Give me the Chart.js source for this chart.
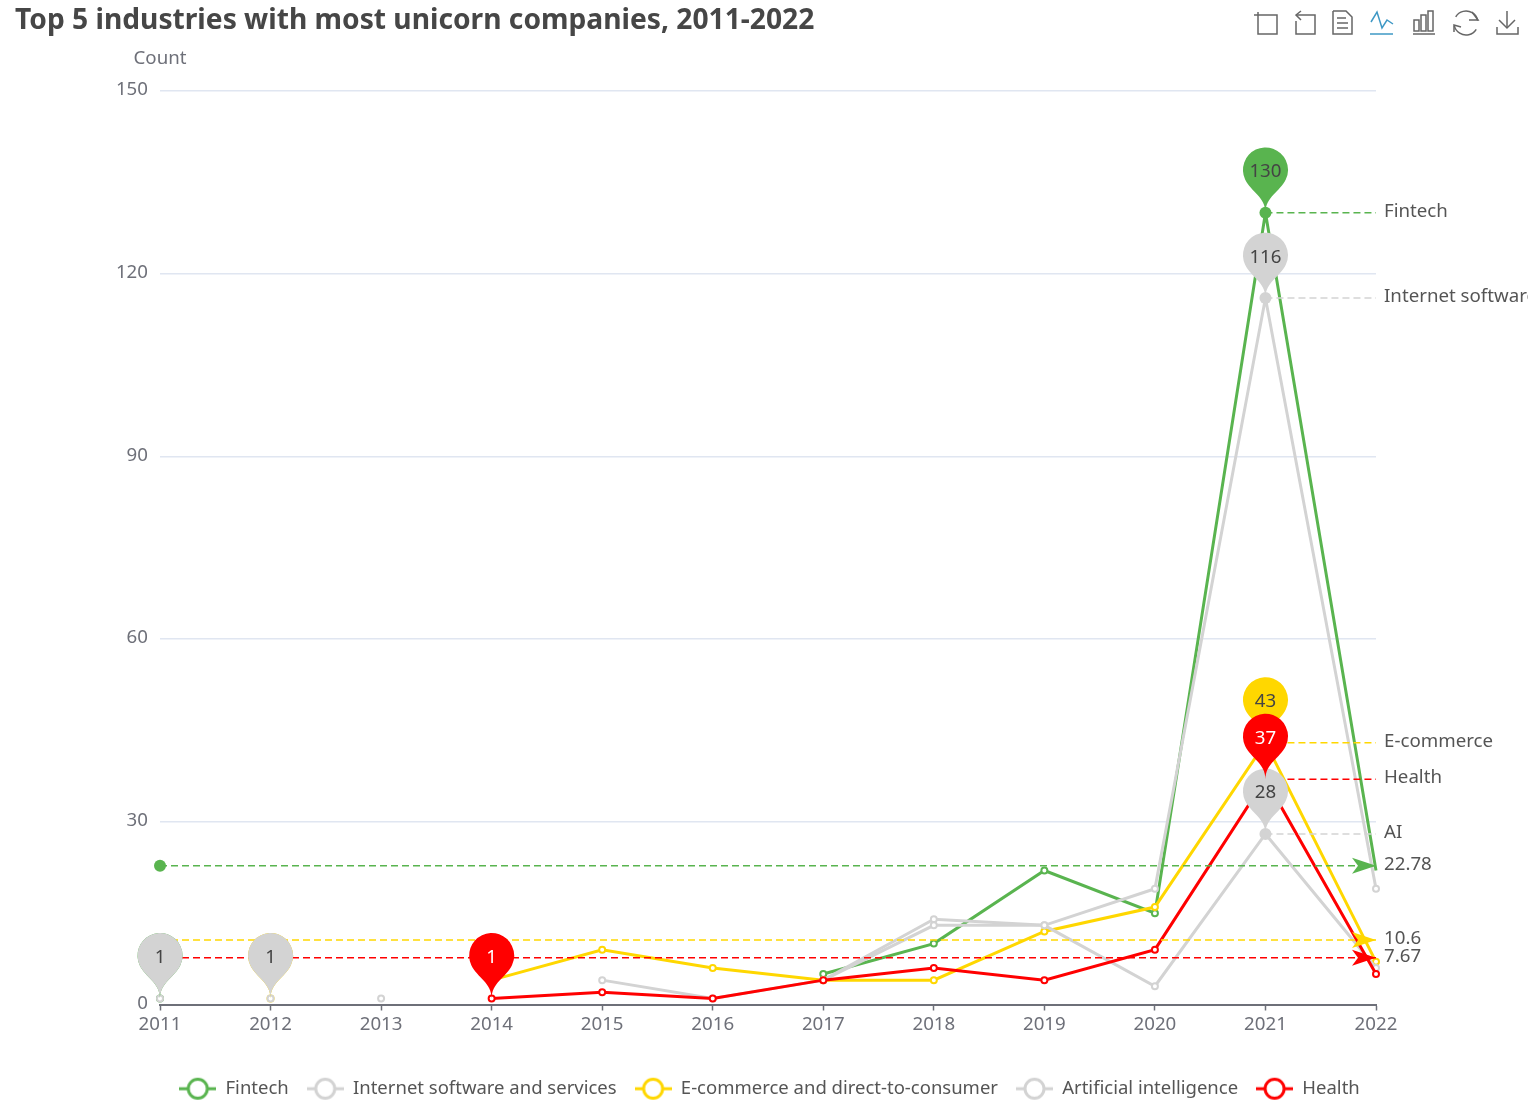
<!DOCTYPE html>
<html>
<head>
<meta charset="utf-8">
<title>Top 5 industries with most unicorn companies</title>
<script src="https://cdn.jsdelivr.net/npm/chart.js@4"></script>
<style>
  html, body { margin: 0; background: #fff; }
  canvas { display: block; }
</style>
</head>
<body>
<canvas id="unicornChart" width="1528" height="1111"></canvas>
<script>
const years = ['2011','2012','2013','2014','2015','2016','2017','2018','2019','2020','2021','2022'];
const yTicks = [0, 30, 60, 90, 120, 150];

const seriesNames = ['Fintech', 'Internet software and services', 'E-commerce and direct-to-consumer', 'Artificial intelligence', 'Health'];
const seriesColors = ['#59b44f', '#d3d3d3', '#ffd700', '#d3d3d3', '#ff0000'];

const fintech  = [1, null, null, null, null, null, 5, 10, 22, 15, 130, 22];
const internet = [1, null, 1, null, 4, 1, 4, 14, 13, 19, 116, 19];
const ecommerce = [null, 1, null, 4, 9, 6, 4, 4, 12, 16, 43, 7];
const ai = [null, 1, null, null, null, null, 4, 13, 13, 3, 28, 6];
const health = [null, null, null, 1, 2, 1, 4, 6, 4, 9, 37, 5];
const seriesValues = [fintech, internet, ecommerce, ai, health];

// labels on the dashed line leaving each series peak
const peakLabels = ['Fintech', 'Internet software', 'E-commerce', 'AI', 'Health'];
// dashed average lines: which series, and the value printed at the end
const averageSeries = [0, 2, 4];
const averageValues = [22.78, 10.6, 7.67];
// low pins: which series, at which year
const lowPinSeries = [0, 1, 2, 3, 4];
const lowPinYears = ['2011', '2011', '2012', '2012', '2014'];

const FONT = "'Noto Sans', sans-serif";
const FONT_SIZE = 18.7;
const TEXT = '#555';
const AXIS = '#6E7079';

// line + ring used as legend key
function legendIcon(color) {
  const c = document.createElement('canvas');
  c.width = 37; c.height = 24;
  const g = c.getContext('2d');
  g.strokeStyle = color; g.lineWidth = 3;
  g.beginPath(); g.moveTo(0, 12); g.lineTo(37, 12); g.stroke();
  g.fillStyle = '#fff'; g.lineWidth = 3;
  g.beginPath(); g.arc(18.5, 12, 9.5, 0, Math.PI * 2); g.fill(); g.stroke();
  return c;
}
const legendIcons = seriesColors.map(legendIcon);

// same outline echarts uses for its pin symbol
function pinPath(ctx, x, y) {
  const w = 45, h = 75, r = w / 2;
  const dy = r * r / (h - r);
  const cy = y - h + r + dy;
  const angle = Math.asin(dy / r);
  const dx = Math.cos(angle) * r;
  const tanX = Math.sin(angle), tanY = Math.cos(angle);
  const cp = r * 0.6, cp2 = r * 0.7;
  ctx.beginPath();
  ctx.moveTo(x - dx, cy + dy);
  ctx.arc(x, cy, r, Math.PI - angle, Math.PI * 2 + angle);
  ctx.bezierCurveTo(x + dx - tanX * cp, cy + dy + tanY * cp, x, y - cp2, x, y);
  ctx.bezierCurveTo(x, y - cp2, x - dx + tanX * cp, cy + dy + tanY * cp, x - dx, cy + dy);
  ctx.closePath();
  return cy;
}

function drawPin(ctx, x, y, color, value) {
  const cy = pinPath(ctx, x, y);
  ctx.fillStyle = color;
  ctx.fill();
  ctx.fillStyle = color === '#ff0000' ? '#fff' : '#444';
  ctx.font = FONT_SIZE + 'px ' + FONT;
  ctx.textAlign = 'center';
  ctx.textBaseline = 'middle';
  ctx.fillText(String(value), x, cy + 2);
}

function dashed(ctx, x1, x2, y, color) {
  ctx.save();
  ctx.strokeStyle = color;
  ctx.lineWidth = 1.5;
  ctx.setLineDash([7, 4]);
  ctx.beginPath(); ctx.moveTo(x1, y); ctx.lineTo(x2, y); ctx.stroke();
  ctx.restore();
}

function endLabel(ctx, text, x, y) {
  ctx.fillStyle = TEXT;
  ctx.font = FONT_SIZE + 'px ' + FONT;
  ctx.textAlign = 'left';
  ctx.textBaseline = 'middle';
  ctx.fillText(text, x + 8, y - 1);
}

function drawToolbox(ctx) {
  ctx.save();
  ctx.lineWidth = 1.5;
  ctx.strokeStyle = '#666';
  const poly = (pts) => {
    ctx.beginPath();
    pts.forEach((p, i) => i ? ctx.lineTo(p[0], p[1]) : ctx.moveTo(p[0], p[1]));
    ctx.stroke();
  };
  // zoom
  poly([[1254, 15], [1277, 15], [1277, 34], [1258, 34], [1258, 12]]);
  // back
  poly([[1301, 11], [1296, 15], [1301, 20]]);
  poly([[1296, 15], [1315, 15], [1315, 34], [1296, 34], [1296, 21]]);
  // data view
  poly([[1333, 11], [1346, 11], [1352, 17], [1352, 34], [1333, 34], [1333, 11]]);
  poly([[1337, 18], [1346, 18]]);
  poly([[1337, 23], [1348, 23]]);
  poly([[1337, 28], [1348, 28]]);
  // bar type
  [[1414, 20, 5, 11], [1421, 15, 5, 16], [1428, 11, 5, 20]].forEach(b => ctx.strokeRect(b[0], b[1], b[2], b[3]));
  poly([[1413, 34], [1435, 34]]);
  // restore
  ctx.beginPath(); ctx.arc(1466, 23, 12, -2.6, -0.2); ctx.stroke();
  ctx.beginPath(); ctx.arc(1466, 23, 12, 0.55, 2.9); ctx.stroke();
  poly([[1472, 12], [1478, 20], [1469, 20]]);
  poly([[1454, 32], [1454, 25], [1461, 27]]);
  // save image
  poly([[1507, 11], [1507, 28]]);
  poly([[1499, 20], [1507, 28], [1515, 20]]);
  poly([[1497, 27], [1497, 34], [1518, 34], [1518, 27]]);
  // line type, selected
  ctx.strokeStyle = '#3e98c5';
  poly([[1371, 22], [1377, 12], [1382, 28], [1387, 20], [1393, 24]]);
  poly([[1370, 34], [1393, 34]]);
  ctx.restore();
}

const markPlugin = {
  id: 'marks',
  afterDatasetsDraw(chart) {
    const ctx = chart.ctx;
    const xs = chart.scales.x, ys = chart.scales.y;
    const right = xs.getPixelForValue(years.length - 1);
    const left = xs.getPixelForValue(0);
    ctx.save();

    // peak lines
    seriesValues.forEach((vals, s) => {
      const peak = Math.max(...vals.filter(v => v !== null));
      const x = xs.getPixelForValue(vals.indexOf(peak));
      const y = ys.getPixelForValue(peak);
      dashed(ctx, x, right, y, seriesColors[s]);
      ctx.fillStyle = seriesColors[s];
      ctx.beginPath(); ctx.arc(x, y, 6, 0, Math.PI * 2); ctx.fill();
      endLabel(ctx, peakLabels[s], right, y);
    });

    // average lines
    averageSeries.forEach((s, i) => {
      const y = ys.getPixelForValue(averageValues[i]);
      const color = seriesColors[s];
      dashed(ctx, left, right, y, color);
      ctx.fillStyle = color;
      ctx.beginPath(); ctx.arc(left, y, 6, 0, Math.PI * 2); ctx.fill();
      ctx.beginPath();
      ctx.moveTo(right, y); ctx.lineTo(right - 24, y + 8); ctx.lineTo(right - 18, y); ctx.lineTo(right - 24, y - 8);
      ctx.closePath(); ctx.fill();
      endLabel(ctx, String(averageValues[i]), right, y);
    });

    // pins go on top of everything, later series over earlier ones
    const pins = [];
    seriesValues.forEach((vals, s) => {
      const peak = Math.max(...vals.filter(v => v !== null));
      pins.push([s, vals.indexOf(peak), peak]);
    });
    lowPinSeries.forEach((s, i) => {
      const idx = years.indexOf(lowPinYears[i]);
      pins.push([s, idx, seriesValues[s][idx]]);
    });
    pins.sort((a, b) => a[0] - b[0]).forEach(p => {
      drawPin(ctx, xs.getPixelForValue(p[1]), ys.getPixelForValue(p[2]), seriesColors[p[0]], p[2]);
    });

    // axis name
    ctx.fillStyle = AXIS;
    ctx.font = FONT_SIZE + 'px ' + FONT;
    ctx.textAlign = 'center';
    ctx.textBaseline = 'middle';
    ctx.fillText('Count', left, 59);

    drawToolbox(ctx);
    ctx.restore();
  }
};

new Chart(document.getElementById('unicornChart'), {
  type: 'line',
  data: {
    labels: years,
    datasets: seriesNames.map((name, i) => ({
      label: name,
      data: seriesValues[i],
      order: seriesNames.length - i,
      borderColor: seriesColors[i],
      backgroundColor: '#fff',
      borderWidth: 3,
      pointBackgroundColor: '#fff',
      pointBorderColor: seriesColors[i],
      // last fintech ring sits under the average arrow in the original, so it is left out
      pointRadius: c => (c.datasetIndex === 0 && c.dataIndex === years.length - 1) ? 0 : 3,
      pointBorderWidth: c => (c.datasetIndex === 0 && c.dataIndex === years.length - 1) ? 0 : 2,
      spanGaps: false,
      tension: 0,
      clip: false
    }))
  },
  options: {
    responsive: false,
    animation: false,
    layout: { padding: { left: 15, right: 4, top: 0, bottom: 3 } },
    plugins: {
      tooltip: { enabled: false },
      title: {
        display: true,
        text: 'Top 5 industries with most unicorn companies, 2011-2022',
        align: 'start',
        color: '#464646',
        font: { family: FONT, size: 28.2, weight: 'bold', lineHeight: '35px' },
        padding: { top: 3, bottom: 53 }
      },
      legend: {
        position: 'bottom',
        labels: {
          usePointStyle: true,
          pointStyleWidth: 37,
          padding: 18,
          color: TEXT,
          font: { family: FONT, size: 18.5 },
          generateLabels: () => seriesNames.map((name, i) => ({
            text: name,
            pointStyle: legendIcons[i],
            datasetIndex: i,
            fontColor: TEXT,
            lineWidth: 0
          }))
        }
      }
    },
    scales: {
      x: {
        type: 'category',
        offset: false,
        afterFit: s => { s.height = 57; },
        border: { display: true, color: AXIS, width: 2 },
        grid: { drawOnChartArea: false, drawTicks: true, tickLength: 6, tickColor: AXIS, tickWidth: 1.5 },
        ticks: { color: AXIS, font: { family: FONT, size: FONT_SIZE }, padding: 3, maxRotation: 0, autoSkip: false }
      },
      y: {
        min: 0,
        max: 150,
        afterFit: s => { s.width = 145; },
        afterBuildTicks: s => { s.ticks = yTicks.map(v => ({ value: v })); },
        border: { display: false },
        grid: { color: '#E0E6F1', lineWidth: 1.5, drawTicks: false },
        ticks: { color: AXIS, font: { family: FONT, size: FONT_SIZE }, padding: 12, labelOffset: -1 }
      },
      // empty axis, only keeps the space on the right for the end labels
      rightGap: {
        type: 'linear',
        position: 'right',
        display: true,
        min: 0,
        max: 1,
        afterFit: s => { s.width = 148; },
        border: { display: false },
        grid: { display: false },
        ticks: { display: false }
      }
    }
  },
  plugins: [markPlugin]
});
</script>
</body>
</html>
